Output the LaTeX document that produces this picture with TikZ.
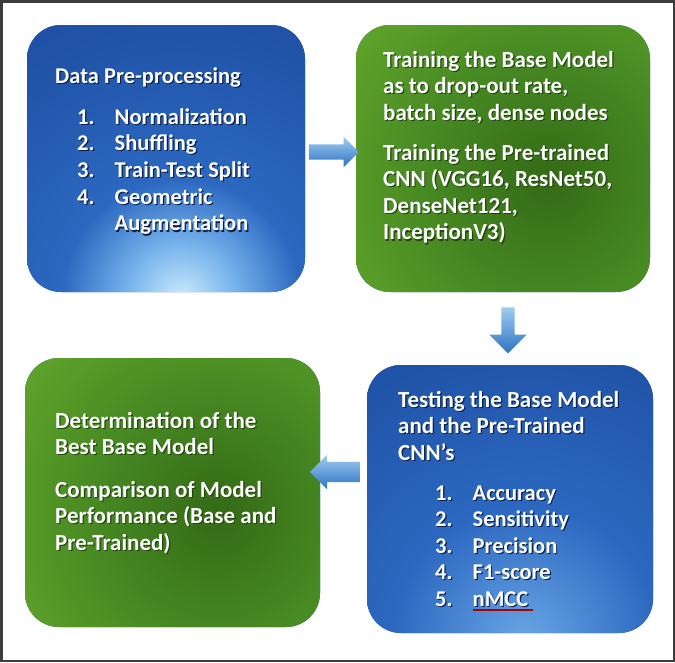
\documentclass[tikz,border=0pt]{standalone}
\usepackage{fontspec}
\setmainfont{Carlito}
\usetikzlibrary{shapes.arrows}
\definecolor{BlueA}{RGB}{205,235,252}
\definecolor{BlueB}{RGB}{120,180,236}
\definecolor{BlueC}{RGB}{44,104,192}
\definecolor{BlueD}{RGB}{32,84,168}
\definecolor{BlueE}{RGB}{26,68,148}
\definecolor{BlueA2}{RGB}{105,165,228}
\definecolor{GreenA}{RGB}{52,106,22}
\definecolor{GreenB}{RGB}{70,136,34}
\definecolor{GreenC}{RGB}{112,182,48}
\definecolor{GreenD}{RGB}{130,196,58}
\definecolor{ArrowLight}{RGB}{160,205,240}
\definecolor{ArrowDark}{RGB}{45,115,195}
\definecolor{FrameGray}{RGB}{60,60,60}
\definecolor{BlueShadow}{RGB}{12,32,80}
\definecolor{GreenShadow}{RGB}{35,70,12}
\colorlet{shadowcol}{BlueShadow}
\pgfdeclareradialshading{blueglowA}{\pgfpoint{0bp}{0bp}}{color(0bp)=(BlueA); color(4bp)=(BlueB); color(9bp)=(BlueC); color(20bp)=(BlueD); color(40bp)=(BlueE); color(75bp)=(BlueE)}
\pgfdeclareradialshading{blueglowB}{\pgfpoint{0bp}{0bp}}{color(0bp)=(BlueA2); color(10bp)=(BlueC); color(22bp)=(BlueD); color(42bp)=(BlueE); color(75bp)=(BlueE)}
\pgfdeclareradialshading{greendark}{\pgfpoint{0bp}{0bp}}{color(0bp)=(GreenA); color(9bp)=(GreenB); color(24bp)=(GreenC); color(36bp)=(GreenD); color(75bp)=(GreenD)}
\tikzset{
  boxbase/.style={rectangle, rounded corners=34pt, inner sep=0pt, fill=BlueD},
  bluebox/.style={boxbase,
    path picture={\shade[shading=#1] ([xshift=15pt,yshift=-6pt]path picture bounding box.south) circle (330pt);}},
  bluebox/.default=blueglowA,
  greenbox/.style={boxbase,
    path picture={\shade[shading=greendark] ([xshift=45pt,yshift=-20pt]path picture bounding box.center) circle (330pt);}},
  txt/.style={inner sep=0pt, anchor=base west, text=white},
  ontblue/.style={txt, execute at begin node={\colorlet{shadowcol}{BlueShadow}}},
  ontgreen/.style={txt, execute at begin node={\colorlet{shadowcol}{GreenShadow}}},
  blockarrow/.style={single arrow, single arrow head indent=0pt,
    top color=ArrowLight, bottom color=ArrowDark, draw=none},
}
\newcommand{\itm}[2]{\makebox[37.5pt][l]{#1}#2}
\newcommand{\sh}[1]{\makebox[0pt][l]{\hspace{1.2pt}\raisebox{-1.2pt}{\textcolor{shadowcol}{#1}}}#1}
\newcommand{\bodyfont}{\bfseries\fontsize{23}{26.6}\selectfont}
\begin{document}
\begin{tikzpicture}[x=1pt,y=-1pt]
\useasboundingbox (0,0) rectangle (675,662);
\fill[white] (0,0) rectangle (675,662);
\draw[line width=2.5pt, draw=FrameGray] (1.25,1.25) rectangle (673.75,660.75);

% boxes
\node[bluebox, minimum width=278pt, minimum height=267pt] (pre) at (166,158.5) {};
\node[greenbox, minimum width=294pt, minimum height=267pt] (train) at (503,158.5) {};
\node[bluebox=blueglowB, minimum width=286pt, minimum height=268pt] (test) at (510,499) {};
\node[greenbox, minimum width=295pt, minimum height=269pt] (best) at (172.5,492.5) {};

% arrows
\node[blockarrow, minimum height=50pt, inner xsep=0pt, inner ysep=7.5pt, single arrow head extend=7.5pt] (a1) at (330,152) {};
\node[blockarrow, minimum height=46pt, inner sep=6.5pt, single arrow head extend=12pt, shape border rotate=270] (a2) at (508,327) {};
\node[blockarrow, minimum height=50pt, inner xsep=0pt, inner ysep=10pt, single arrow head extend=7pt, shape border rotate=180] (a3) at (340,472) {};

% texts box 1
\node[ontblue, font=\bfseries\fontsize{22.5}{26.7}\selectfont] (t1a) at (55,83) {\sh{Data Pre-processing}};
\node[ontblue, font=\bfseries\fontsize{22.5}{26.7}\selectfont] (t1b) at (77,124)
  {\begin{tabular}[t]{@{}l@{}}\sh{\itm{1.}{Normalization}}\\ \sh{\itm{2.}{Shuffling}}\\ \sh{\itm{3.}{Train-Test Split}}\\ \sh{\itm{4.}{Geometric}}\\ \sh{\itm{}{Augmentation}}\end{tabular}};

% texts box 2
\node[ontgreen, font=\bodyfont] (t2a) at (383,67)
  {\begin{tabular}[t]{@{}l@{}}\sh{Training the Base Model}\\ \sh{as to drop-out rate,}\\ \sh{batch size, dense nodes}\end{tabular}};
\node[ontgreen, font=\bodyfont] (t2b) at (383,160)
  {\begin{tabular}[t]{@{}l@{}}\sh{Training the Pre-trained}\\ \sh{CNN (VGG16, ResNet50,}\\ \sh{DenseNet121,}\\ \sh{InceptionV3)}\end{tabular}};

% texts box 3
\node[ontblue, font=\bodyfont] (t3a) at (398,407)
  {\begin{tabular}[t]{@{}l@{}}\sh{Testing the Base Model}\\ \sh{and the Pre-Trained}\\ \sh{CNN’s}\end{tabular}};
\node[ontblue, font=\bfseries\fontsize{22.5}{26.5}\selectfont] (t3b) at (435,500)
  {\begin{tabular}[t]{@{}l@{}}\sh{\itm{1.}{Accuracy}}\\ \sh{\itm{2.}{Sensitivity}}\\ \sh{\itm{3.}{Precision}}\\ \sh{\itm{4.}{F1-score}}\\ \sh{\itm{5.}{nMCC}}\end{tabular}};
\draw[line width=1.2pt, draw=red!65!black] ([xshift=37.5pt,yshift=-110pt]t3b.base west) -- ++(60,0);

% texts box 4
\node[ontgreen, font=\bodyfont] (t4a) at (55,428)
  {\begin{tabular}[t]{@{}l@{}}\sh{Determination of the}\\ \sh{Best Base Model}\end{tabular}};
\node[ontgreen, font=\bodyfont] (t4b) at (55,497)
  {\begin{tabular}[t]{@{}l@{}}\sh{Comparison of Model}\\ \sh{Performance (Base and}\\ \sh{Pre-Trained)}\end{tabular}};
\end{tikzpicture}
\end{document}
